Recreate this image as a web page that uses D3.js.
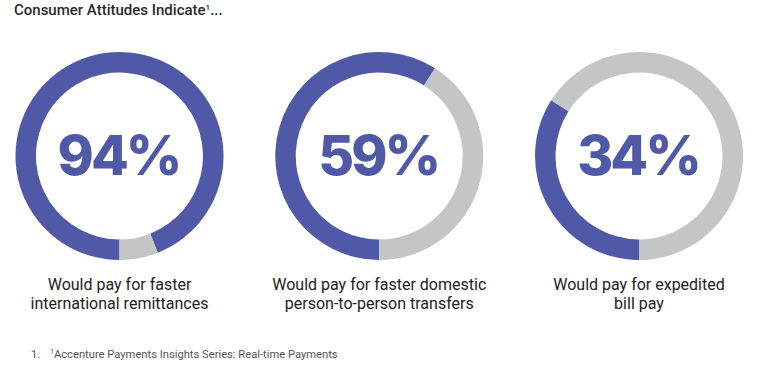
<!DOCTYPE html>
<html>
<head>
<meta charset="utf-8">
<script src="https://cdn.jsdelivr.net/npm/d3@7"></script>
<style>
  body { margin: 0; background: #fff; }
  svg { display: block; }
</style>
</head>
<body>
<div id="chart"></div>
<script>
const categories = ["intl", "domestic", "billpay"];
const shares = [94, 59, 34];
const labels = ["94%", "59%", "34%"];
const captions = [
  ["Would pay for faster", "international remittances"],
  ["Would pay for faster domestic", "person-to-person transfers"],
  ["Would pay for expedited", "bill pay"]
];
const title = "Consumer Attitudes Indicate";
const footnote = "Accenture Payments Insights Series: Real-time Payments";

const width = 760,
  height = 371;

const blue = "#4f59a8",
  grey = "#c4c5c7";

const svg = d3.select("#chart")
  .append("svg")
  .attr("width", width)
  .attr("height", height)
  .attr("viewBox", [0, 0, width, height]);

// centres of the three rings
const x = d3.scalePoint()
  .domain(categories)
  .range([119.5, 639]);

const cy = 156,
  outer = 104,
  inner = 83.5;

const pie = d3.pie()
  .sort(null)
  .startAngle(Math.PI)
  .endAngle(3 * Math.PI);

const arc = d3.arc()
  .innerRadius(inner)
  .outerRadius(outer);

const rings = svg.append("g")
  .selectAll("g")
  .data(categories)
  .join("g")
  .attr("transform", d => `translate(${x(d)},${cy})`);

rings.selectAll("path")
  .data((d, i) => pie([shares[i], 100 - shares[i]]))
  .join("path")
  .attr("fill", (d, i) => i === 0 ? blue : grey)
  .attr("d", arc);

rings.append("text")
  .attr("text-anchor", "middle")
  .attr("x", -1)
  .attr("y", 19)
  .attr("fill", blue)
  .style("font-family", "Inter, sans-serif")
  .style("font-weight", 800)
  .style("font-size", "55px")
  .style("letter-spacing", "-3px")
  .text((d, i) => labels[i]);

// captions under each ring
svg.append("g")
  .selectAll("text")
  .data(categories)
  .join("text")
  .attr("x", d => x(d))
  .attr("y", 290)
  .attr("text-anchor", "middle")
  .attr("fill", "#222")
  .style("font-family", "Roboto, sans-serif")
  .style("font-size", "16px")
  .selectAll("tspan")
  .data((d, i) => captions[i])
  .join("tspan")
  .attr("x", function () { return this.parentNode.getAttribute("x"); })
  .attr("dy", (d, i) => i === 0 ? 0 : 18.5)
  .text(d => d);

// title
const t = svg.append("text")
  .attr("x", 14)
  .attr("y", 14.5)
  .attr("fill", "#2a2a2a")
  .style("font-family", "Roboto, sans-serif")
  .style("font-weight", 500)
  .style("font-size", "15px");
t.append("tspan").text(title);
t.append("tspan").attr("dy", -5).style("font-size", "8px").text("1");
t.append("tspan").attr("dy", 5).text("...");

// footnote
const f = svg.append("text")
  .attr("x", 31)
  .attr("y", 358)
  .attr("fill", "#555")
  .style("font-family", "Roboto, sans-serif")
  .style("font-size", "11.2px");
f.append("tspan").text("1.");
f.append("tspan").attr("x", 50).attr("dy", -4).style("font-size", "7px").text("1");
f.append("tspan").attr("dy", 4).text(footnote);
</script>
</body>
</html>
